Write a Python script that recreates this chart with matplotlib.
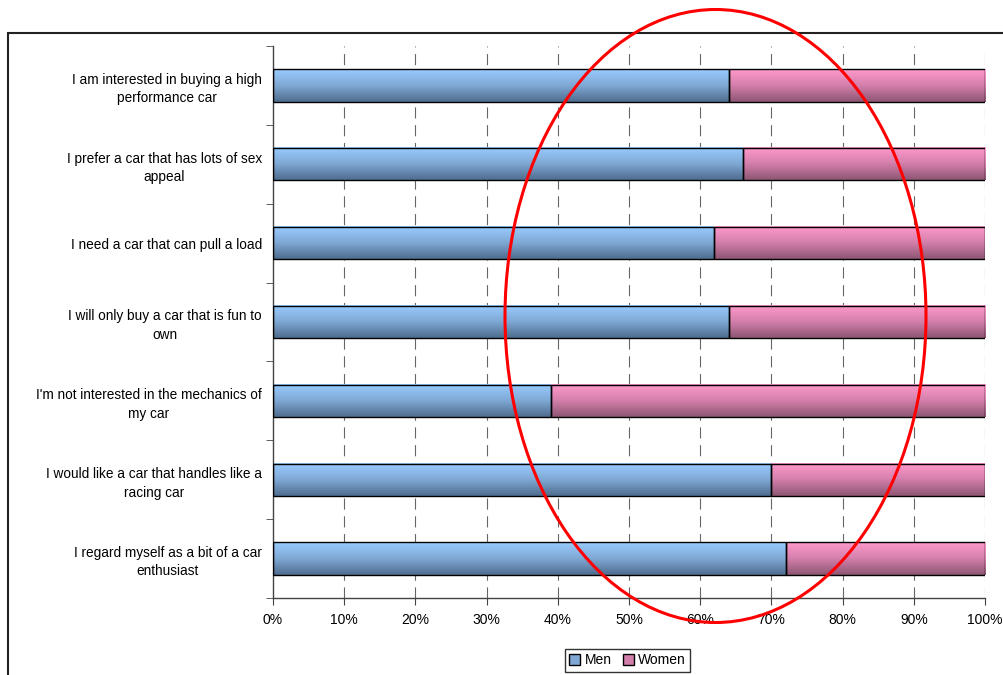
import numpy as np
import matplotlib.pyplot as plt
from matplotlib.patches import Ellipse, Rectangle, Patch
from matplotlib.colors import LinearSegmentedColormap

plt.rcParams['font.family'] = ['Liberation Sans', 'DejaVu Sans']

statements = [
    'I am interested in buying a high\nperformance car',
    'I prefer a car that has lots of sex\nappeal',
    'I need a car that can pull a load',
    'I will only buy a car that is fun to\nown',
    "I'm not interested in the mechanics of\nmy car",
    'I would like a car that handles like a\nracing car',
    'I regard myself as a bit of a car\nenthusiast',
]
men = [64, 66, 62, 64, 39, 70, 72]
women = [36, 34, 38, 36, 61, 30, 28]

blue_cmap = LinearSegmentedColormap.from_list('b', ['#4f6d8f', '#7fa8d4', '#99ccff'])
pink_cmap = LinearSegmentedColormap.from_list('p', ['#8e5673', '#d37fab', '#ff99cc'])

fig = plt.figure(figsize=(10.04, 6.75), dpi=100)
ax = fig.add_axes([0.2719, 0.1141, 0.7092, 0.8178])

y = np.arange(len(statements))
h = 0.41
grad = np.linspace(0, 1, 64).reshape(-1, 1)


def gradient_bars(bars, cmap):
    for b in bars:
        x0, y0 = b.get_x(), b.get_y()
        w, hh = b.get_width(), b.get_height()
        ax.imshow(grad, cmap=cmap, aspect='auto', origin='lower',
                  extent=(x0, x0 + w, y0 + hh, y0), zorder=2)
        b.set_facecolor('none')
        b.set_zorder(3)


b1 = ax.barh(y, men, h, edgecolor='black', linewidth=1.0, label='Men')
b2 = ax.barh(y, women, h, left=men, edgecolor='black', linewidth=1.0, label='Women')
ax.set_ylim(len(statements) - 0.5, -0.5)
ax.set_xlim(0, 100)
gradient_bars(b1, blue_cmap)
gradient_bars(b2, pink_cmap)

ax.set_xticks(np.arange(0, 101, 10))
ax.set_xticklabels([f'{v}%' for v in range(0, 101, 10)], fontsize=10)
ax.tick_params(axis='x', length=5, color='#444444', pad=6)
ax.set_yticks(y)
ax.set_yticklabels(statements, fontsize=9.8, ha='right', multialignment='center',
                   linespacing=1.4)
ax.tick_params(axis='y', which='major', length=0, pad=8)
ax.set_yticks(np.arange(-0.5, len(statements)), minor=True)
ax.tick_params(axis='y', which='minor', length=5, color='#444444')

for xv in range(10, 101, 10):
    ax.axvline(xv, color='#666666', linestyle=(0, (10, 6)), linewidth=0.8, zorder=1)

for s in ['top', 'right']:
    ax.spines[s].set_visible(False)
for s in ['left', 'bottom']:
    ax.spines[s].set_color('#444444')
    ax.spines[s].set_linewidth(1.0)

handles = [Patch(facecolor='#7fa8d4', edgecolor='black', label='Men'),
           Patch(facecolor='#d37fab', edgecolor='black', label='Women')]
leg = fig.legend(handles=handles, loc='center', bbox_to_anchor=(0.625, 0.0215),
                 ncol=2, fontsize=10, frameon=True, fancybox=False,
                 handlelength=0.8, handleheight=0.8, handletextpad=0.3,
                 columnspacing=0.8, borderpad=0.3)
leg.get_frame().set_edgecolor('black')
leg.get_frame().set_linewidth(1.0)

# outer chart frame
fig.patches.append(Rectangle((8 / 1004, -0.05), 1.1, 0.951 + 0.05, transform=fig.transFigure,
                             fill=False, edgecolor='#222222', linewidth=1.5, zorder=0))

# red highlight ellipse
fig.patches.append(Ellipse((715.5 / 1004, 1 - 316 / 675), 421 / 1004, 613 / 675,
                           transform=fig.transFigure, fill=False,
                           edgecolor='red', linewidth=2.2, zorder=10))

fig.savefig('out.png', dpi=100)
